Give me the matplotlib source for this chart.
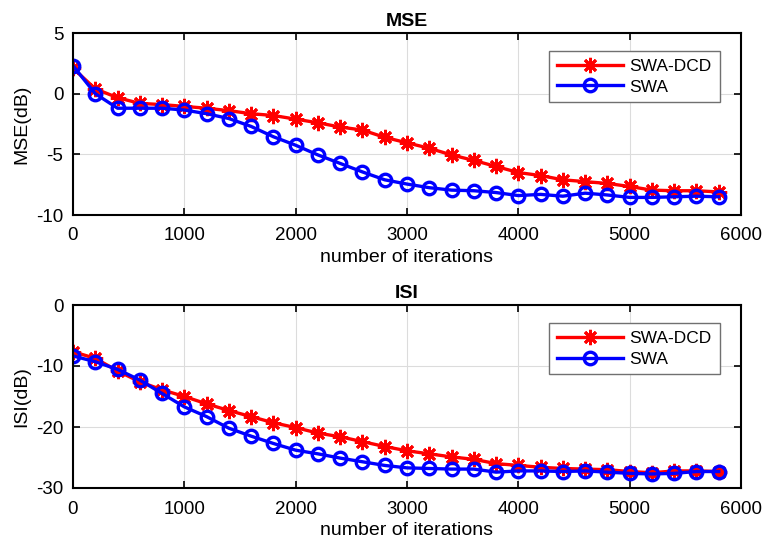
import matplotlib
matplotlib.use("Agg")
import matplotlib.pyplot as plt
import numpy as np

plt.rcParams['font.family'] = ['Liberation Sans', 'DejaVu Sans']
plt.rcParams['axes.unicode_minus'] = False

iterations = list(range(0, 6000, 200))

mse_swa_dcd = [2.1, 0.4, -0.33, -0.8, -0.9, -1.05, -1.2, -1.4, -1.65, -1.8,
               -2.1, -2.4, -2.75, -3.0, -3.6, -4.05, -4.5, -5.05, -5.5, -6.0,
               -6.5, -6.75, -7.1, -7.25, -7.4, -7.65, -7.95, -8.0, -8.0, -8.1]
mse_swa = [2.3, 0.0, -1.2, -1.2, -1.2, -1.35, -1.65, -2.05, -2.7, -3.55,
           -4.25, -5.05, -5.75, -6.45, -7.1, -7.45, -7.75, -7.95, -8.0, -8.15,
           -8.4, -8.3, -8.45, -8.2, -8.35, -8.55, -8.55, -8.5, -8.45, -8.5]

isi_swa_dcd = [-7.65, -8.75, -10.8, -12.6, -13.9, -15.0, -16.2, -17.3, -18.3, -19.3,
               -20.1, -21.0, -21.6, -22.4, -23.2, -23.9, -24.4, -24.9, -25.3, -26.0,
               -26.3, -26.6, -26.8, -26.9, -27.0, -27.3, -27.5, -27.2, -27.2, -27.3]
isi_swa = [-8.35, -9.3, -10.55, -12.3, -14.5, -16.7, -18.3, -20.2, -21.5, -22.7,
           -23.8, -24.4, -25.1, -25.7, -26.3, -26.7, -26.8, -26.9, -26.9, -27.4,
           -27.2, -27.2, -27.3, -27.2, -27.4, -27.6, -27.7, -27.6, -27.3, -27.3]

fig = plt.figure(figsize=(7.65, 5.43), dpi=100)
W, H = 765, 543
ax1 = fig.add_axes([73 / W, 1 - 215 / H, (741 - 73) / W, (215 - 33) / H])
ax2 = fig.add_axes([73 / W, 1 - 488 / H, (741 - 73) / W, (488 - 305) / H])

star = (8, 2, 0)

def style(ax, title, ylabel, ylim, yticks):
    ax.set_xlim(0, 6000)
    ax.set_ylim(*ylim)
    ax.set_xticks([0, 1000, 2000, 3000, 4000, 5000, 6000])
    ax.set_yticks(yticks)
    ax.grid(True, color='#dcdcdc', linewidth=0.8)
    ax.set_axisbelow(True)
    ax.tick_params(direction='in', top=True, right=True, labelsize=13.5, length=5, width=1.2)
    ax.tick_params(axis='x', pad=9)
    ax.tick_params(axis='y', pad=7)
    for s in ax.spines.values():
        s.set_linewidth(1.5)
    ax.set_title(title, fontsize=14, fontweight='bold', pad=5)
    ax.set_xlabel('number of iterations', fontsize=14, labelpad=3)
    ax.set_ylabel(ylabel, fontsize=14, labelpad=4)
    leg = ax.legend(loc='upper right', bbox_to_anchor=(0.968, 0.9), fontsize=12.5, fancybox=False,
                    edgecolor='#707070', framealpha=1, handlelength=3.8, handletextpad=0.4,
                    borderpad=0.45, labelspacing=0.3, borderaxespad=0)
    leg.get_frame().set_linewidth(1.0)

ax1.plot(iterations, mse_swa_dcd, color='red', lw=2.4, marker=star, ms=11, mew=2, label='SWA-DCD')
ax1.plot(iterations, mse_swa, color='blue', lw=2.4, marker='o', ms=9, mfc='none', mew=2.4, label='SWA')
ax2.plot(iterations, isi_swa_dcd, color='red', lw=2.4, marker=star, ms=11, mew=2, label='SWA-DCD')
ax2.plot(iterations, isi_swa, color='blue', lw=2.4, marker='o', ms=9, mfc='none', mew=2.4, label='SWA')

style(ax1, 'MSE', 'MSE(dB)', (-10, 5), [-10, -5, 0, 5])
style(ax2, 'ISI', 'ISI(dB)', (-30, 0), [-30, -20, -10, 0])

fig.savefig('out.png', dpi=100)
